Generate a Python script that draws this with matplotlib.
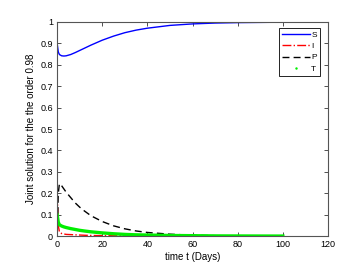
import matplotlib
matplotlib.use("Agg")
import matplotlib.pyplot as plt

plt.rcParams["font.family"] = ["Liberation Sans", "DejaVu Sans"]

# values
t = [0, 0.5, 1, 2, 3, 4, 6, 8, 10, 12, 15, 20, 25, 30, 35, 40, 50, 60, 70, 80, 90, 100]
S = [0.90, 0.86, 0.848, 0.842, 0.841, 0.842, 0.848, 0.857, 0.867, 0.877, 0.892, 0.915,
     0.934, 0.950, 0.962, 0.971, 0.984, 0.991, 0.995, 0.997, 0.998, 0.999]
I = [0.20, 0.05, 0.02, 0.012, 0.010, 0.008, 0.007, 0.006, 0.005, 0.004, 0.003, 0.002,
     0.0015, 0.001, 0.0008, 0.0005, 0.0003, 0.0002, 0.0001, 0.0001, 0.0, 0.0]
P = [0.0, 0.20, 0.245, 0.235, 0.22, 0.205, 0.18, 0.155, 0.135, 0.118, 0.095, 0.068,
     0.048, 0.034, 0.024, 0.017, 0.009, 0.004, 0.002, 0.001, 0.0005, 0.0002]
T = [0.10, 0.065, 0.053, 0.047, 0.043, 0.040, 0.035, 0.031, 0.027, 0.024, 0.020, 0.015,
     0.011, 0.008, 0.006, 0.005, 0.003, 0.002, 0.001, 0.0007, 0.0004, 0.0002]

fig = plt.figure(figsize=(3.64, 2.68), dpi=100)
ax = fig.add_axes([0.157, 0.119, 0.744, 0.799])

ax.plot(t, S, color="#0000ff", lw=1.0, label="S")
ax.plot(t, I, color="#ff0000", lw=1.0, ls="-.", label="I")
ax.plot(t, P, color="black", lw=1.0, ls=(0, (5, 3)), label="P")
ax.plot(t, T, color="#00ee00", lw=2.4)
ax.plot([], [], ".", color="#00ee00", ms=1.5, label="T")

ax.set_xlim(0, 120)
ax.set_ylim(0, 1)
ax.set_xticks(range(0, 121, 20))
ax.set_yticks([i / 10 for i in range(11)])
ax.set_yticklabels(["0", "0.1", "0.2", "0.3", "0.4", "0.5", "0.6", "0.7", "0.8", "0.9", "1"])
ax.tick_params(direction="in", top=True, right=True, labelsize=6.5, length=3,
               width=0.6, color="#333333", pad=3)
for s in ax.spines.values():
    s.set_color("#555555")
    s.set_linewidth(0.8)

ax.set_xlabel("time t (Days)", fontsize=7, labelpad=2)
ax.set_ylabel("Joint solution for the the order 0.98", fontsize=7, labelpad=3)

leg = ax.legend(loc="upper right", bbox_to_anchor=(0.97, 0.97), borderaxespad=0,
                fontsize=6, fancybox=False, edgecolor="black", framealpha=1,
                handlelength=3.3, handletextpad=0.2, labelspacing=0.4, borderpad=0.35)
leg.get_frame().set_linewidth(0.6)

fig.savefig("out.png", dpi=100)
